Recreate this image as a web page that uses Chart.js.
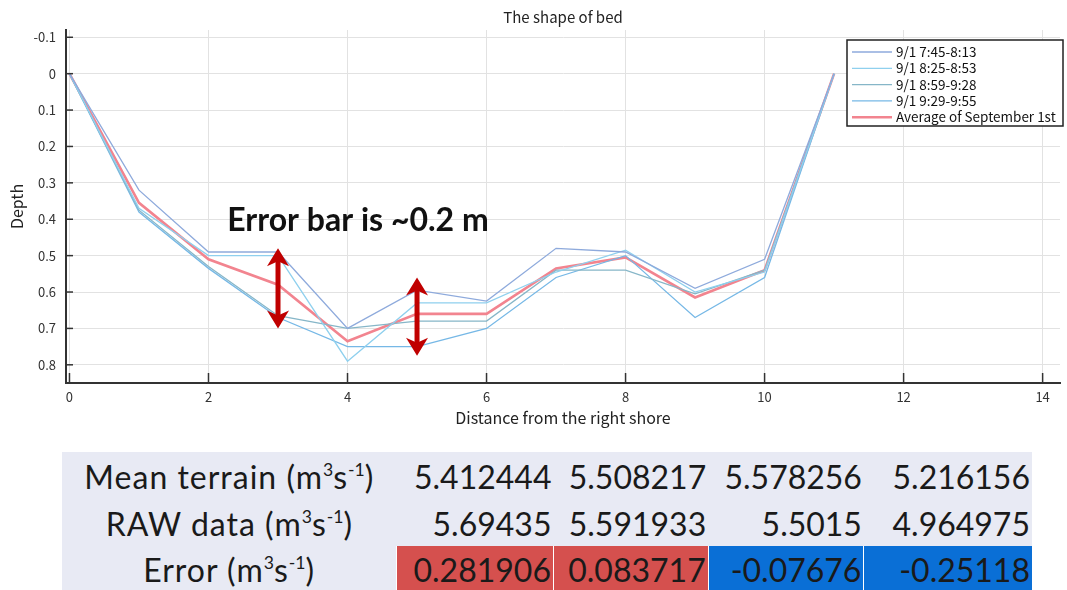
<!DOCTYPE html>
<html>
<head>
<meta charset="utf-8">
<title>The shape of bed</title>
<script src="https://cdn.jsdelivr.net/npm/chart.js@4.4.0/dist/chart.umd.min.js"></script>
<style>
    body { margin: 0; background: #fff; }
    #wrap { position: absolute; left: 0; top: 0; width: 1067px; height: 435px; }
    #flow { position: absolute; left: 62px; top: 452px; width: 970px; height: 138px; background: #e8eaf4; overflow: hidden; }
    #flow table { border-collapse: collapse; font-family: Lato, sans-serif; font-size: 32px; color: #1a1a1a; }
    #flow td { padding: 0 2px 0 0; text-align: right; white-space: nowrap; }
    #flow td.lbl { text-align: center; padding: 0; letter-spacing: 1px; }
    #flow sup { font-size: 0.55em; vertical-align: 0.75em; line-height: 0; letter-spacing: 0; }
    #flow td.pos { background: #d5504e; border-left: 1px solid #fff; }
    #flow td.neg { background: #0a6fd6; border-left: 1px solid #fff; }
</style>
</head>
<body>
<div id="wrap"><canvas id="bedChart"></canvas></div>
<div id="flow"><table id="flowTable"></table></div>
<script>
// distance from the right shore
var distance = [0, 1, 2, 3, 4, 5, 6, 7, 8, 9, 10, 11];
// depth of each survey run
var run1 = [0, 0.32, 0.49, 0.49, 0.70, 0.595, 0.625, 0.48, 0.49, 0.59, 0.51, 0];
var run2 = [0, 0.37, 0.50, 0.50, 0.79, 0.63, 0.63, 0.545, 0.485, 0.60, 0.545, 0];
var run3 = [0, 0.375, 0.53, 0.665, 0.70, 0.68, 0.68, 0.54, 0.54, 0.605, 0.54, 0];
var run4 = [0, 0.38, 0.535, 0.67, 0.75, 0.75, 0.70, 0.56, 0.50, 0.67, 0.56, 0];
var average = [0, 0.355, 0.51, 0.58, 0.735, 0.66, 0.66, 0.535, 0.505, 0.615, 0.54, 0];
var runLabels = ['9/1 7:45-8:13', '9/1 8:25-8:53', '9/1 8:59-9:28', '9/1 9:29-9:55'];
var averageLabel = 'Average of September 1st';

// error bar annotation
var errorBarX = [3, 5];
var errorBarTop = [0.48, 0.56];
var errorBarBottom = [0.70, 0.775];
var errorNote = 'Error bar is ~0.2 m';

// table under the chart
var rowNames = ['Mean terrain', 'RAW data', 'Error'];
var meanTerrain = [5.412444, 5.508217, 5.578256, 5.216156];
var rawData = [5.69435, 5.591933, 5.5015, 4.964975];
var errorValues = [0.281906, 0.083717, -0.07676, -0.25118];

var jpFont = '"Noto Sans CJK JP", sans-serif';
var tickFont = { family: jpFont, size: 13 };
var titleFont = { family: jpFont, size: 16 };

function pairs(ys) {
    return distance.map(function (x, i) { return { x: x, y: ys[i] }; });
}

var runColors = ['#8eaadc', '#8fd0ee', '#86b6c8', '#76b8e6'];
var datasets = [run1, run2, run3, run4].map(function (r, i) {
    return {
        label: runLabels[i],
        data: pairs(r),
        borderColor: runColors[i],
        borderWidth: 1.3,
        pointRadius: 0,
        tension: 0
    };
});
datasets.push({
    label: averageLabel,
    data: pairs(average),
    borderColor: '#f2848f',
    borderWidth: 2.6,
    pointRadius: 0,
    tension: 0
});

// inward tick marks, legend box, arrows and the note
var extras = {
    id: 'extras',
    afterDatasetsDraw: function (chart) {
        var c = chart.ctx;
        var xs = chart.scales.x, ys = chart.scales.y;
        var a = chart.chartArea;
        c.save();
        c.strokeStyle = '#333';
        c.lineWidth = 1.5;
        xs.ticks.forEach(function (t) {
            var px = xs.getPixelForValue(t.value);
            c.beginPath(); c.moveTo(px, a.bottom); c.lineTo(px, a.bottom - 10); c.stroke();
        });
        ys.ticks.forEach(function (t) {
            var py = ys.getPixelForValue(t.value);
            c.beginPath(); c.moveTo(a.left, py); c.lineTo(a.left + 7, py); c.stroke();
        });

        // arrows
        c.strokeStyle = '#c00000';
        c.fillStyle = '#c00000';
        for (var i = 0; i < errorBarX.length; i++) {
            var ax = xs.getPixelForValue(errorBarX[i]);
            var y1 = ys.getPixelForValue(errorBarTop[i]);
            var y2 = ys.getPixelForValue(errorBarBottom[i]);
            c.lineWidth = 5;
            c.beginPath(); c.moveTo(ax, y1 + 12); c.lineTo(ax, y2 - 12); c.stroke();
            c.beginPath(); c.moveTo(ax, y1); c.lineTo(ax - 11, y1 + 18); c.lineTo(ax, y1 + 13); c.lineTo(ax + 11, y1 + 18); c.closePath(); c.fill();
            c.beginPath(); c.moveTo(ax, y2); c.lineTo(ax - 11, y2 - 18); c.lineTo(ax, y2 - 13); c.lineTo(ax + 11, y2 - 18); c.closePath(); c.fill();
        }

        // note
        c.fillStyle = '#111';
        c.font = 'bold 32px Lato, sans-serif';
        c.textBaseline = 'middle';
        c.textAlign = 'left';
        c.fillText(errorNote, xs.getPixelForValue(2.27), ys.getPixelForValue(0.405));

        // legend
        var lx = 847, ly = 40, lw = 216, lh = 86;
        c.fillStyle = '#fff';
        c.fillRect(lx, ly, lw, lh);
        c.strokeStyle = '#222';
        c.lineWidth = 1.5;
        c.strokeRect(lx, ly, lw, lh);
        c.font = '13.5px ' + jpFont;
        c.textBaseline = 'middle';
        chart.data.datasets.forEach(function (ds, k) {
            var ry = ly + 12 + k * 16.3;
            c.strokeStyle = ds.borderColor;
            c.lineWidth = ds.borderWidth;
            c.beginPath(); c.moveTo(lx + 5, ry); c.lineTo(lx + 45, ry); c.stroke();
            c.fillStyle = '#111';
            c.fillText(ds.label, lx + 49, ry);
        });
        c.restore();
    }
};

var ctx = document.getElementById('bedChart').getContext('2d');
var bedChart = new Chart(ctx, {
    type: 'line',
    data: { datasets: datasets },
    options: {
        responsive: true,
        maintainAspectRatio: false,
        animation: false,
        layout: { padding: { left: 0, right: 7, top: 0, bottom: 0 } },
        plugins: {
            legend: { display: false },
            tooltip: { enabled: false },
            title: {
                display: true,
                text: 'The shape of bed',
                fullSize: false,
                color: '#222',
                font: { family: jpFont, size: 15, weight: 'normal' },
                padding: { top: 8, bottom: 4 }
            }
        },
        scales: {
            x: {
                type: 'linear',
                min: -0.05,
                max: 14.25,
                ticks: { stepSize: 2, includeBounds: false, color: '#333', font: tickFont, padding: 6, maxRotation: 0 },
                grid: { color: '#e2e2e2', drawTicks: false },
                border: { color: '#333', width: 2 },
                title: { display: true, text: 'Distance from the right shore', color: '#222', font: titleFont, padding: { top: 0, bottom: 7 } },
                afterFit: function (s) { s.height = 52; }
            },
            y: {
                type: 'linear',
                reverse: true,
                min: -0.12,
                max: 0.85,
                ticks: {
                    stepSize: 0.1, includeBounds: false, color: '#333', font: tickFont, padding: 10,
                    callback: function (v) { return Math.round(v * 10) / 10; }
                },
                grid: { color: '#e2e2e2', drawTicks: false },
                border: { color: '#333', width: 2 },
                title: { display: true, text: 'Depth', color: '#222', font: titleFont, padding: { top: 7, bottom: 0 } },
                afterFit: function (s) { s.width = 66; }
            }
        }
    },
    plugins: [extras]
});

// table
var unit = ' (m<sup>3</sup>s<sup>-1</sup>)';
var rows = [meanTerrain, rawData, errorValues];
var widths = [335, 156, 154, 155, 168];
var heights = [48, 46, 46];
var html = '';
rows.forEach(function (vals, r) {
    html += '<tr style="height:' + heights[r] + 'px"><td class="lbl" style="width:' + widths[0] + 'px">' + rowNames[r] + unit + '</td>';
    vals.forEach(function (v, i) {
        var cls = '';
        if (r == 2) cls = v >= 0 ? 'pos' : 'neg';
        html += '<td class="' + cls + '" style="width:' + (widths[i + 1] - 2) + 'px">' + v + '</td>';
    });
    html += '</tr>';
});
document.getElementById('flowTable').innerHTML = html;
</script>
</body>
</html>
